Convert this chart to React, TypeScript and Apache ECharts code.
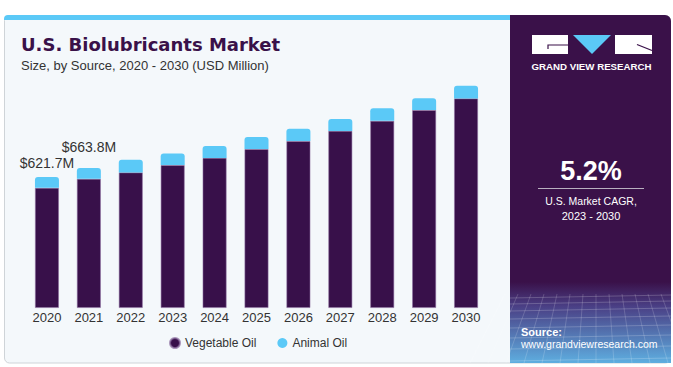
import React, { useEffect, useRef } from "react";
import * as echarts from "echarts";

const years = ["2020", "2021", "2022", "2023", "2024", "2025", "2026", "2027", "2028", "2029", "2030"];
const vegetableOil = [570, 613, 643, 678, 712, 754, 792, 840, 888, 939, 994];
const animalOil = [51.7, 50.8, 60, 55, 56, 57, 58, 56, 60, 56, 60];
const totalLabels = ["$621.7M", "$663.8M"];
const labelDistances = [7, 14];

const DARK = "#38104a";
const BLUE = "#5bc9f7";

export default function App() {
  const ref = useRef<HTMLDivElement>(null);
  useEffect(() => {
    if (!ref.current) return;
    const chart = echarts.init(ref.current, undefined, { renderer: "svg" });

    const gridLines: any[] = [];
    const hys = [298, 304, 311, 319, 328, 338, 349, 361];
    hys.forEach((y) => {
      gridLines.push({
        type: "line",
        silent: true,
        shape: { x1: 510, y1: y, x2: 671, y2: y - 3 },
        style: { stroke: "rgba(255,255,255,0.2)", lineWidth: 1 },
      });
    });
    for (let i = 0; i < 14; i++) {
      const xt = 505 + i * 13;
      const xb = 470 + i * 18;
      gridLines.push({
        type: "line",
        silent: true,
        shape: { x1: xt, y1: 294, x2: xb, y2: 363 },
        style: { stroke: "rgba(255,255,255,0.17)", lineWidth: 1 },
      });
    }

    chart.setOption({
      animation: false,
      grid: { left: 26, right: 186, top: 55, bottom: 59, containLabel: false },
      xAxis: {
        type: "category",
        data: years,
        axisLine: { show: false },
        axisTick: { show: false },
        axisLabel: { color: "#333", fontSize: 13, fontFamily: "Liberation Sans, Arial, sans-serif", margin: 3 },
      },
      yAxis: { type: "value", min: 0, max: 1200, show: false, splitLine: { show: false } },
      legend: {
        data: ["Vegetable Oil", "Animal Oil"],
        left: 169,
        top: 337,
        padding: 0,
        icon: "circle",
        itemWidth: 10,
        itemHeight: 10,
        itemGap: 21,
        textStyle: { color: "#333", fontSize: 12, fontFamily: "Liberation Sans, Arial, sans-serif" },
      },
      graphic: [
        {
          type: "rect",
          silent: true,
          shape: { x: 4.5, y: 15.5, width: 666, height: 347.5, r: 5 },
          style: { fill: "#f4f8fb", stroke: "#cfd4d8", lineWidth: 1 },
        },
        {
          type: "rect",
          silent: true,
          shape: { x: 4, y: 15, width: 508, height: 5, r: [4, 0, 0, 0] },
          style: { fill: BLUE },
        },
        {
          type: "rect",
          silent: true,
          shape: { x: 510, y: 15, width: 161, height: 348, r: [0, 6, 0, 0] },
          style: { fill: "#3a1149" },
        },
        {
          type: "rect",
          silent: true,
          shape: { x: 510, y: 282, width: 161, height: 81 },
          style: {
            fill: new echarts.graphic.LinearGradient(0, 0, 0, 1, [
              { offset: 0, color: "#3a1149" },
              { offset: 0.3, color: "#4a3f85" },
              { offset: 1, color: "#5eaee0" },
            ]),
          },
        },
        ...gridLines,
        // logo
        { type: "rect", silent: true, shape: { x: 532, y: 35, width: 36, height: 19 }, style: { fill: "#fff" } },
        {
          type: "polyline",
          silent: true,
          shape: { points: [[568, 45], [548, 45], [548, 49]] },
          style: { stroke: "#3a1149", lineWidth: 1.2, fill: "none" },
        },
        { type: "polygon", silent: true, shape: { points: [[573, 35], [611, 35], [592, 54]] }, style: { fill: BLUE } },
        { type: "rect", silent: true, shape: { x: 615, y: 35, width: 37, height: 19 }, style: { fill: "#fff" } },
        {
          type: "line",
          silent: true,
          shape: { x1: 637, y1: 44.5, x2: 652, y2: 50.5 },
          style: { stroke: "#3a1149", lineWidth: 1.2 },
        },
        {
          type: "text",
          silent: true,
          x: 591.5,
          y: 66,
          style: {
            text: "GRAND VIEW RESEARCH",
            fill: "#fff",
            font: "bold 9.7px Liberation Sans, Arial, sans-serif",
            align: "center",
            verticalAlign: "middle",
          },
        },
        // titles
        {
          type: "text",
          silent: true,
          x: 21,
          y: 44,
          style: {
            text: "U.S. Biolubricants Market",
            fill: "#3a1149",
            font: "bold 18px DejaVu Sans, sans-serif",
            align: "left",
            verticalAlign: "middle",
          },
        },
        {
          type: "text",
          silent: true,
          x: 21,
          y: 65,
          style: {
            text: "Size, by Source, 2020 - 2030 (USD Million)",
            fill: "#333",
            font: "13px Liberation Sans, Arial, sans-serif",
            align: "left",
            verticalAlign: "middle",
          },
        },
        // CAGR
        {
          type: "text",
          silent: true,
          x: 591,
          y: 171,
          style: {
            text: "5.2%",
            fill: "#fff",
            font: "bold 27px Liberation Sans, Arial, sans-serif",
            align: "center",
            verticalAlign: "middle",
          },
        },
        {
          type: "line",
          silent: true,
          shape: { x1: 538, y1: 188.5, x2: 644, y2: 188.5 },
          style: { stroke: "#b9b0c0", lineWidth: 1 },
        },
        {
          type: "text",
          silent: true,
          x: 591,
          y: 201,
          style: {
            text: "U.S. Market CAGR,",
            fill: "#fff",
            font: "10.5px Liberation Sans, Arial, sans-serif",
            align: "center",
            verticalAlign: "middle",
          },
        },
        {
          type: "text",
          silent: true,
          x: 591,
          y: 216,
          style: {
            text: "2023 - 2030",
            fill: "#fff",
            font: "11px Liberation Sans, Arial, sans-serif",
            align: "center",
            verticalAlign: "middle",
          },
        },
        // source
        {
          type: "text",
          silent: true,
          x: 521,
          y: 332,
          style: {
            text: "Source:",
            fill: "#fff",
            font: "bold 11px Liberation Sans, Arial, sans-serif",
            align: "left",
            verticalAlign: "middle",
          },
        },
        {
          type: "text",
          silent: true,
          x: 521,
          y: 343.5,
          style: {
            text: "www.grandviewresearch.com",
            fill: "#fff",
            font: "10.5px Liberation Sans, Arial, sans-serif",
            align: "left",
            verticalAlign: "middle",
          },
        },
      ],
      series: [
        {
          name: "Vegetable Oil",
          type: "bar",
          stack: "total",
          barWidth: 24,
          data: vegetableOil,
          itemStyle: { color: DARK, borderColor: "rgba(140,110,160,0.7)", borderWidth: 0.8 },
          z: 3,
        },
        {
          name: "Animal Oil",
          type: "bar",
          stack: "total",
          barWidth: 24,
          data: animalOil.map((v, i) =>
            i < totalLabels.length
              ? {
                  value: v,
                  label: {
                    show: true,
                    position: "top",
                    distance: labelDistances[i],
                    formatter: totalLabels[i],
                    color: "#333",
                    fontSize: 14,
                    fontFamily: "Liberation Sans, Arial, sans-serif",
                  },
                }
              : v
          ),
          itemStyle: { color: BLUE, borderRadius: [3, 3, 0, 0] },
          z: 3,
        },
      ],
    });
    return () => chart.dispose();
  }, []);
  return (
    <div
      ref={ref}
      style={{ position: "fixed", left: 0, top: 0, width: 673, height: 367, background: "#fff" }}
    />
  );
}
